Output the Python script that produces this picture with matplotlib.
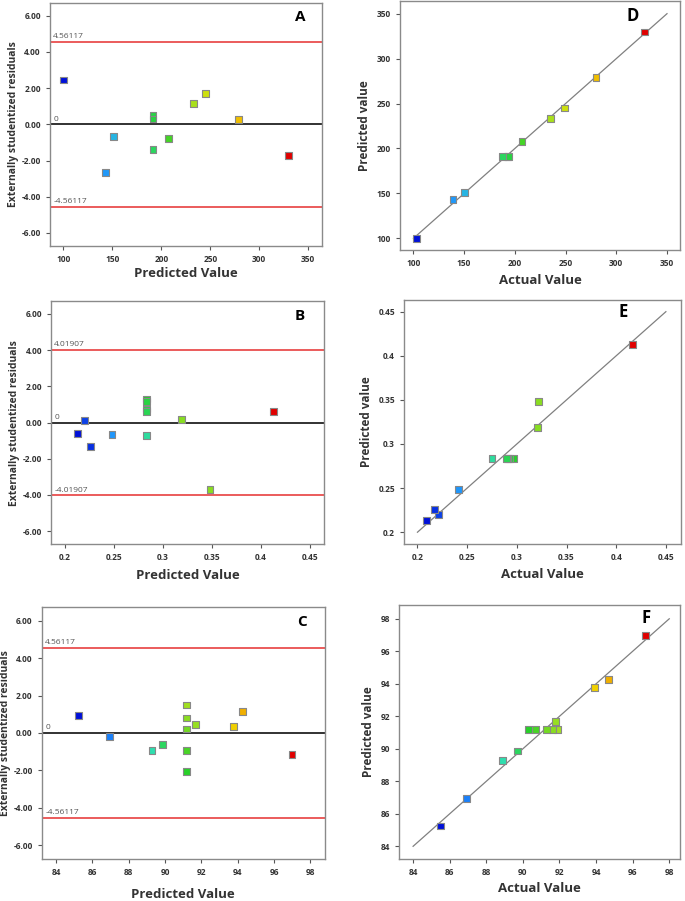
import numpy as np
import matplotlib
matplotlib.use("Agg")
import matplotlib.pyplot as plt
from matplotlib.colors import LinearSegmentedColormap, Normalize

plt.rcParams['font.family'] = ['Open Sans', 'DejaVu Sans']

# Grupo 1 (A / D)
pred_1 = [100, 143, 151, 191.5, 191.5, 191.5, 207.5, 233, 245, 279, 329.5]
actual_1 = [103, 139, 150, 193, 194, 188, 207, 235, 249, 280, 328]
resid_1 = [2.45, -2.65, -0.65, 0.5, 0.3, -1.4, -0.78, 1.15, 1.7, 0.25, -1.72]
lim_1 = 4.56117

# Grupo 2 (B / E)
pred_2 = [0.213, 0.220, 0.226, 0.248, 0.2835, 0.2835, 0.2835, 0.2835, 0.2835, 0.319, 0.348, 0.4125]
actual_2 = [0.209, 0.221, 0.217, 0.241, 0.297, 0.2925, 0.291, 0.290, 0.275, 0.321, 0.322, 0.4165]
resid_2 = [-0.6, 0.1, -1.3, -0.65, 1.3, 1.15, 0.75, 0.62, -0.72, 0.15, -3.7, 0.6]
lim_2 = 4.01907

# Grupo 3 (C / F)
pred_3 = [85.25, 86.95, 89.28, 89.87, 91.2, 91.2, 91.2, 91.2, 91.2, 91.68, 93.77, 94.27, 96.99]
actual_3 = [85.49, 86.90, 88.89, 89.71, 91.91, 91.60, 91.31, 90.71, 90.29, 91.80, 93.90, 94.70, 96.71]
resid_3 = [0.92, -0.18, -0.92, -0.62, 1.50, 0.80, 0.21, -0.92, -2.04, 0.46, 0.35, 1.15, -1.13]
lim_3 = 4.56117

cmap = LinearSegmentedColormap.from_list(
    "de", ["#0010d8", "#1e90ff", "#30e0c0", "#28d028", "#a0e020", "#f0e000", "#f0a000", "#e00000"])

label_kw = dict(fontsize=9.5, fontweight='bold', color='#333333')
tick_kw = dict(labelsize=6, labelcolor='#333333', color='#555555', length=3, width=0.8)


def style(ax):
    for s in ax.spines.values():
        s.set_color('#8a8a8a')
        s.set_linewidth(1)
    ax.tick_params(**tick_kw)


def residual_plot(ax, pred, resid, actual, lim, xlim, xticks, letter, letter_pos, xpad):
    norm = Normalize(min(actual), max(actual))
    ax.axhline(lim, color='#e84040', lw=1.2)
    ax.axhline(-lim, color='#e84040', lw=1.2)
    ax.axhline(0, color='#222222', lw=1.3)
    ax.scatter(pred, resid, marker='s', s=24, c=cmap(norm(actual)),
               edgecolors='#888888', linewidths=0.8, zorder=3)
    x0 = xlim[0] + (xlim[1] - xlim[0]) * 0.012
    ax.text(x0, lim + 0.1, f"{lim:.5f}", fontsize=6, color='#555555', va='bottom')
    ax.text(x0, -lim + 0.1, f"-{lim:.5f}", fontsize=6, color='#555555', va='bottom')
    ax.text(x0, 0.1, "0", fontsize=6, color='#555555', va='bottom')
    ax.set_xlim(*xlim)
    ax.set_ylim(-6.72, 6.72)
    ax.set_xticks(xticks)
    ax.set_yticks([-6, -4, -2, 0, 2, 4, 6])
    ax.set_yticklabels([f"{v:.2f}" for v in [-6, -4, -2, 0, 2, 4, 6]])
    ax.set_xlabel("Predicted Value", labelpad=xpad, **label_kw)
    ax.set_ylabel("Externally studentized residuals", fontsize=7.5, fontweight='bold',
                  color='#333333', labelpad=2)
    ax.text(*letter_pos, letter, transform=ax.transAxes, fontsize=11, fontweight='bold',
            ha='center', va='center')
    style(ax)


def parity_plot(ax, actual, pred, lo, hi, xlim, ylim, ticks, ticklabels, letter, letter_pos):
    norm = Normalize(min(actual), max(actual))
    ax.plot([lo, hi], [lo, hi], color='#808080', lw=0.9)
    ax.scatter(actual, pred, marker='s', s=24, c=cmap(norm(actual)),
               edgecolors='#888888', linewidths=0.8, zorder=3)
    ax.set_xlim(*xlim)
    ax.set_ylim(*ylim)
    ax.set_xticks(ticks)
    ax.set_yticks(ticks)
    ax.set_xticklabels(ticklabels)
    ax.set_yticklabels(ticklabels)
    ax.set_xlabel("Actual Value", labelpad=4, **label_kw)
    ax.set_ylabel("Predicted value", fontsize=8.5, fontweight='bold', color='#333333')
    ax.text(*letter_pos, letter, transform=ax.transAxes, fontsize=12, fontweight='bold',
            ha='center', va='center')
    style(ax)


fig = plt.figure(figsize=(6.85, 9.01), dpi=100)

axA = fig.add_axes([0.073, 0.727, 0.397, 0.270])
axD = fig.add_axes([0.584, 0.7225, 0.409, 0.276])
axB = fig.add_axes([0.0745, 0.396, 0.3985, 0.270])
axE = fig.add_axes([0.590, 0.396, 0.404, 0.271])
axC = fig.add_axes([0.061, 0.047, 0.413, 0.279])
axF = fig.add_axes([0.5825, 0.047, 0.410, 0.281])

t1 = [100, 150, 200, 250, 300, 350]
t2 = [0.2, 0.25, 0.3, 0.35, 0.4, 0.45]
t2_lab = ["0.2", "0.25", "0.3", "0.35", "0.4", "0.45"]
t3 = [84, 86, 88, 90, 92, 94, 96, 98]

residual_plot(axA, pred_1, resid_1, actual_1, lim_1, (86.4, 364), t1, "A", (0.92, 0.94), 2)
residual_plot(axB, pred_2, resid_2, actual_2, lim_2, (0.1857, 0.4643), t2, "B", (0.91, 0.94), 5)
axB.set_xticklabels(t2_lab)
residual_plot(axC, pred_3, resid_3, actual_3, lim_3, (83.21, 98.79), t3, "C", (0.92, 0.94), 8)

parity_plot(axD, actual_1, pred_1, 100, 350, (86.8, 363), (87, 363.7), t1,
            [str(t) for t in t1], "D", (0.83, 0.94))
parity_plot(axE, actual_2, pred_2, 0.2, 0.45, (0.1866, 0.4651), (0.1864, 0.4632), t2,
            t2_lab, "E", (0.79, 0.95))
parity_plot(axF, actual_3, pred_3, 84, 98, (83.23, 98.58), (83.24, 98.82), t3,
            [str(t) for t in t3], "F", (0.88, 0.95))
for ax in (axA, axB, axC, axD, axE, axF):
    for lab in ax.get_xticklabels() + ax.get_yticklabels():
        lab.set_fontweight('bold')

fig.savefig("out.png", dpi=100)
